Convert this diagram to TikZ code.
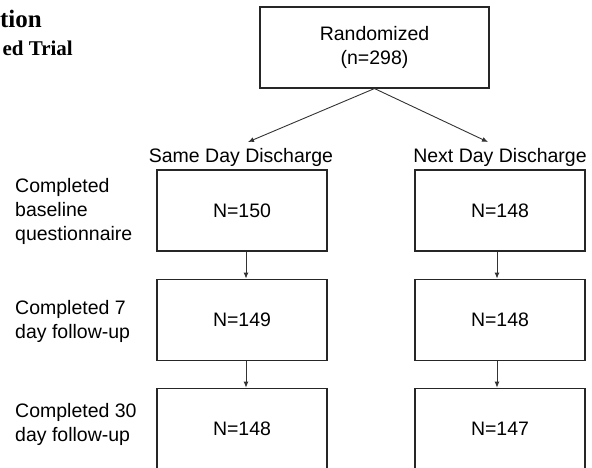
\documentclass[tikz,border=0pt]{standalone}
\usepackage{fontspec}
\setmainfont{Liberation Sans}
\newfontfamily\titlefont{Liberation Serif}
\usetikzlibrary{arrows.meta,positioning,calc}

\begin{document}
\begin{tikzpicture}[
    x=1pt, y=-1pt,
    >={Latex[length=6pt,width=5pt]},
    basebox/.style={
        draw=black!85,
        line width=1.1pt,
        align=center,
        minimum width=170pt,
        minimum height=81pt,
        inner sep=0pt,
        font=\fontsize{19.5}{24}\selectfont
    },
    % box in the arms
    armbox/.style={basebox},
    topbox/.style={basebox, minimum width=229pt},
    steplabel/.style={anchor=west, align=left, inner sep=0pt, font=\fontsize{19.5}{24}\selectfont},
    armlabel/.style={inner sep=0pt, font=\fontsize{19.5}{24}\selectfont},
    arrow/.style={->, line width=0.9pt, draw=black!80}
]
\useasboundingbox (0,0) rectangle (592,468);

% Title (cut at the left)
\node[anchor=base east, inner sep=0pt, font=\titlefont\bfseries\fontsize{25}{30}\selectfont] (title1) at (42,28) {tion};
\node[anchor=base east, inner sep=0pt, font=\titlefont\bfseries\fontsize{21}{25}\selectfont] (title2) at (73,56) {ed Trial};

% Nodes
\node[topbox] (rand) at (374.5,47.5) {Randomized\\(n=298)};

\node[armlabel] (same) at (241,157) {Same Day Discharge};
\node[armlabel] (next) at (500,157) {Next Day Discharge};

\node[armbox] (s1) at (242,210.5) {N=150};
\node[armbox, below=27pt of s1] (s2) {N=149};
\node[armbox, below=27pt of s2] (s3) {N=148};

\node[armbox] (n1) at (500,210.5) {N=148};
\node[armbox, below=27pt of n1] (n2) {N=148};
\node[armbox, below=27pt of n2] (n3) {N=147};

\node[steplabel] (l1) at (15,211) {Completed\\baseline\\questionnaire};
\node[steplabel] (l2) at (15,321) {Completed 7\\day follow-up};
\node[steplabel] (l3) at (15,424) {Completed 30\\day follow-up};

\coordinate (sametip) at (248,142);
\coordinate (nexttip) at (488,142);

% Connections
\draw[arrow] (rand.south) -- (sametip);
\draw[arrow] (rand.south) -- (nexttip);
\draw[arrow] ([xshift=4pt]s1.south) -- ([xshift=4pt]s2.north);
\draw[arrow] ([xshift=4pt]s2.south) -- ([xshift=4pt]s3.north);
\draw[arrow] ([xshift=-3pt]n1.south) -- ([xshift=-3pt]n2.north);
\draw[arrow] ([xshift=-3pt]n2.south) -- ([xshift=-3pt]n3.north);

\end{tikzpicture}
\end{document}
